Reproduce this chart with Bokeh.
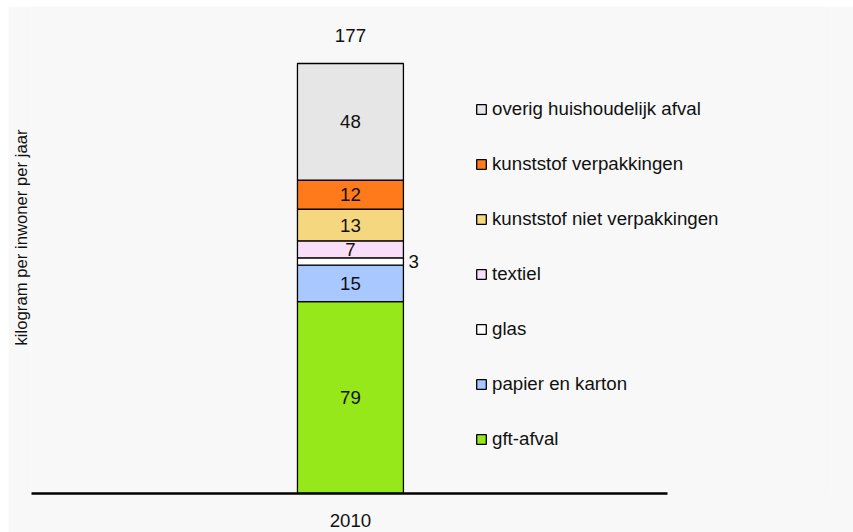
from bokeh.plotting import figure
from bokeh.models import Range1d, Legend, LegendItem, ColumnDataSource, FixedTicker, Spacer, Title
from bokeh.layouts import column, row
from bokeh.core.properties import value
from bokeh.embed import file_html
from bokeh.resources import INLINE
import numpy as np

years = ["2010"]
categories = ["gft-afval", "papier en karton", "glas", "textiel",
              "kunststof niet verpakkingen", "kunststof verpakkingen",
              "overig huishoudelijk afval"]
values = [79, 15, 3, 7, 13, 12, 48]
colors = ["#96e81a", "#a8c8ff", "#ffffff", "#f8def8", "#f5d780", "#ff7a1a", "#e6e6e6"]
y_label = "kilogram per inwoner per jaar"

BG = "#f7f8f7"
FONT = "Liberation Sans"
FS = "18.7px"

xpos = list(range(len(years)))

p = figure(width=845, height=526, x_range=Range1d(-3.01, 4.54),
           y_range=Range1d(0, 200.46), output_backend="svg", toolbar_location=None,
           min_border_left=0, min_border_right=22, min_border_top=0, min_border_bottom=39)
p.background_fill_color = BG
p.border_fill_color = BG
p.outline_line_color = None
p.grid.visible = False

data = {"x": xpos}
for c, v in zip(categories, values):
    data[c] = [v]
src = ColumnDataSource(data)
rs = p.vbar_stack(categories, x="x", width=1.0, color=colors, source=src,
                  line_color="black", line_width=1.3)

items = [LegendItem(label=c, renderers=[r]) for c, r in zip(categories, rs)][::-1]
legend = Legend(items=items, location=(444, 43), padding=0, margin=0,
                spacing=33, label_height=22, glyph_width=12, glyph_height=12,
                label_standoff=5, border_line_color=None, background_fill_alpha=0,
                label_text_font=FONT, label_text_font_size=FS, label_text_color="#111111")
p.add_layout(legend, "center")

vals = np.array(values, dtype=float)
tops = np.cumsum(vals)
mids = tops - vals / 2
inside = vals >= 5
lab_in = ColumnDataSource(dict(x=[xpos[0]] * int(inside.sum()), y=mids[inside],
                               t=[str(v) for v, k in zip(values, inside) if k]))
lab_out = ColumnDataSource(dict(x=[xpos[0]] * int((~inside).sum()), y=mids[~inside],
                                t=[str(v) for v, k in zip(values, inside) if not k]))
p.text(x="x", y="y", text="t", source=lab_in, text_align="center", text_baseline="middle",
       text_font=value(FONT), text_font_size=FS, text_color="#111111")
p.text(x="x", y="y", text="t", source=lab_out, text_align="left", text_baseline="middle",
       x_offset=58, text_font=value(FONT), text_font_size=FS, text_color="#111111")
tot = ColumnDataSource(dict(x=xpos, y=[tops[-1]], t=[str(int(tops[-1]))]))
p.text(x="x", y="y", text="t", source=tot, text_align="center", text_baseline="middle",
       y_offset=-28, text_font=value(FONT), text_font_size=FS, text_color="#111111")

xa = p.xaxis[0]
xa.ticker = FixedTicker(ticks=xpos)
xa.major_label_overrides = {i: y for i, y in zip(xpos, years)}
xa.bounds = (-3.01, 2.99)
xa.axis_line_color = "black"
xa.axis_line_width = 2.5
xa.major_tick_line_color = None
xa.minor_tick_line_color = None
xa.major_tick_out = 0
xa.minor_tick_out = 0
xa.major_label_standoff = 20
xa.major_label_text_font = FONT
xa.major_label_text_font_size = FS
xa.major_label_text_color = "#111111"

p.yaxis.visible = False
ytitle = Title(text=y_label, align="left", offset=148, standoff=2,
               text_font=FONT, text_font_size="16.7px", text_font_style="normal",
               text_color="#111111")
p.add_layout(ytitle, "left")

layout = column(Spacer(height=6, width=853), row(Spacer(width=8, height=526), p))
open("out.html", "w").write(file_html(layout, INLINE))
